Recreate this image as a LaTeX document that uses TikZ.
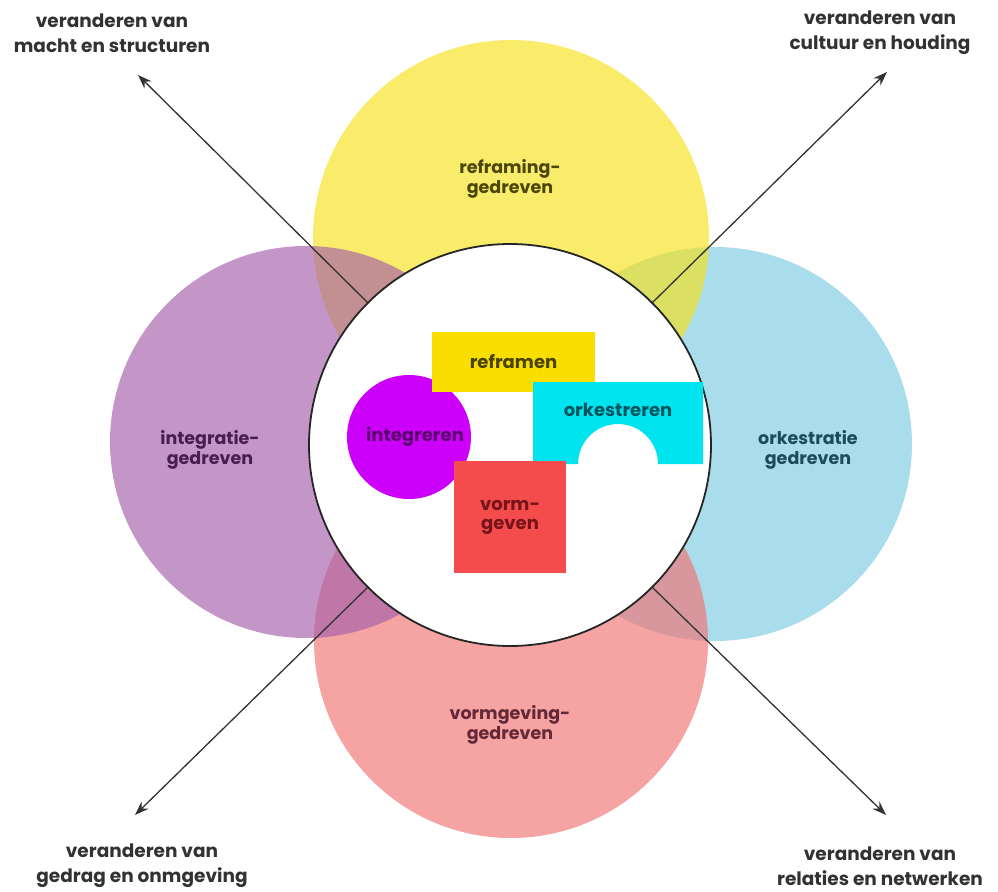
\documentclass[tikz,border=0pt]{standalone}
\usepackage{fontspec}
\setmainfont{Poppins}
\usetikzlibrary{arrows.meta}

\definecolor{zonGeel}{RGB}{246,226,26}
\definecolor{zonPaars}{RGB}{164,94,170}
\definecolor{zonBlauw}{RGB}{123,203,226}
\definecolor{zonRoze}{RGB}{240,114,114}
\definecolor{blokGeel}{RGB}{250,222,0}
\definecolor{blokPaars}{RGB}{204,0,250}
\definecolor{blokCyaan}{RGB}{0,228,240}
\definecolor{blokRood}{RGB}{244,76,76}
\definecolor{pijlGrijs}{RGB}{50,50,50}

\tikzset{
	petal/.style={fill opacity=0.65},
	petaltext/.style={align=center, font=\bfseries\fontsize{17.5}{20}\selectfont},
	outertext/.style={align=center, text=pijlGrijs, font=\bfseries\fontsize{18.5}{25}\selectfont},
	blocktext/.style={align=center, font=\bfseries\fontsize{18}{19}\selectfont},
	outarrow/.style={draw=pijlGrijs, line width=1.3pt, -{Stealth[length=14pt,width=10pt]}}
}

\begin{document}
\begin{tikzpicture}[x=1pt, y=-1pt]
	\useasboundingbox (0,0) rectangle (998,891);
	
	% Draw the four petals
	\fill[petal, zonBlauw] (715,444) circle[radius=197pt];
	\fill[petal, zonGeel] (511,238) circle[radius=198pt];
	\fill[petal, zonRoze] (511,641) circle[radius=197pt];
	\fill[petal, zonPaars] (306,442) circle[radius=196pt];
	
	% Petal labels
	\node[petaltext, text={rgb,255:red,75;green,70;blue,10}] (reframing) at (510,179) {reframing-\\gedreven};
	\node[petaltext, text={rgb,255:red,70;green,30;blue,80}] (integratie) at (210,450) {integratie-\\gedreven};
	\node[petaltext, text={rgb,255:red,30;green,75;blue,90}] (orkestratie) at (808,450) {orkestratie\\gedreven};
	\node[petaltext, text={rgb,255:red,100;green,40;blue,55}] (vormgeving) at (510,725) {vormgeving-\\gedreven};
	
	% Core circle
	\node[circle, fill=white, draw=black!85, line width=1.8pt, minimum size=402pt, inner sep=0pt] (core) at (510,445) {};
	
	% Draw arrows
	\coordinate (tlTip) at (138,75);
	\coordinate (trTip) at (887,72);
	\coordinate (blTip) at (135,815);
	\coordinate (brTip) at (886,815);
	\draw[outarrow] (core.135) -- (tlTip);
	\draw[outarrow] (core.45) -- (trTip);
	\draw[outarrow] (core.-135) -- (blTip);
	\draw[outarrow] (core.-45) -- (brTip);
	
	% Draw labels
	\node[outertext] (macht) at (112,33) {veranderen van\\macht en structuren};
	\node[outertext] (cultuur) at (880,33) {veranderen van\\cultuur en houding};
	\node[outertext] (gedrag) at (142,866) {veranderen van\\gedrag en onmgeving};
	\node[outertext] (relaties) at (880,866) {veranderen van\\relaties en netwerken};
	
	% Inner blocks
	\node[circle, fill=blokPaars, minimum size=124pt, inner sep=0pt, blocktext, text={rgb,255:red,90;green,0;blue,110}] (integreren) at (409,437) {\hspace*{12pt}integreren};
	\node[fill=blokGeel, minimum width=163pt, minimum height=60pt, inner sep=0pt, blocktext, text={rgb,255:red,75;green,68;blue,0}] (reframen) at (513.5,362) {reframen};
	\fill[blokCyaan] (533,382) -- (703,382) -- (703,464) -- (658,464)
		arc[start angle=0, end angle=180, radius=40pt] -- (533,464) -- cycle;
	\node[blocktext, text={rgb,255:red,0;green,85;blue,95}] (orkestreren) at (618,410) {orkestreren};
	\node[fill=blokRood, minimum width=112pt, minimum height=112pt, inner sep=0pt, blocktext, text={rgb,255:red,120;green,20;blue,25}] (vormgeven) at (510,517) {vorm-\\geven};
\end{tikzpicture}
\end{document}
